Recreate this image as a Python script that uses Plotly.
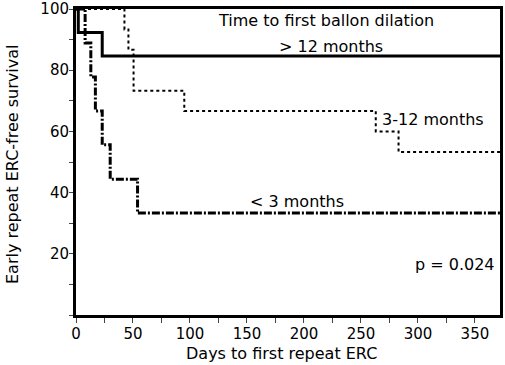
import plotly.graph_objects as go

# Kaplan-Meier step data (days, % survival)
gt12_days = [0, 2, 23, 374]
gt12_surv = [100, 92.3, 84.6, 84.6]

m3_12_days = [0, 42.5, 46, 50.5, 95, 263, 283, 374]
m3_12_surv = [100, 93.3, 86.7, 73.3, 66.7, 60.0, 53.3, 53.3]

lt3_days = [0, 8, 13, 17, 23, 30, 54, 374]
lt3_surv = [100, 88.9, 77.8, 66.7, 55.6, 44.4, 33.3, 33.3]

x_ticks = [0, 50, 100, 150, 200, 250, 300, 350]
y_ticks = [20, 40, 60, 80, 100]

FONT = "DejaVu Sans"

fig = go.Figure()
fig.add_trace(go.Scatter(x=gt12_days, y=gt12_surv, mode="lines", line_shape="hv",
                         line=dict(color="black", width=3), showlegend=False))
fig.add_trace(go.Scatter(x=m3_12_days, y=m3_12_surv, mode="lines", line_shape="hv",
                         line=dict(color="black", width=2, dash="dot"), showlegend=False))
fig.add_trace(go.Scatter(x=lt3_days, y=lt3_surv, mode="lines", line_shape="hv",
                         line=dict(color="black", width=3, dash="8px,2px,2px,2px"), showlegend=False))

annots = [
    ("Time to first ballon dilation", 219.7, 96.1, "center"),
    ("> 12 months", 223.8, 87.6, "center"),
    ("3-12 months", 313, 63.8, "center"),
    ("< 3 months", 194, 37.1, "center"),
    ("p = 0.024", 369.5, 16.6, "right"),
]
for t, x, y, xa in annots:
    fig.add_annotation(text=t, x=x, y=y, xref="x", yref="y", showarrow=False, xanchor=xa,
                       font=dict(family=FONT, size=16, color="black"))

# axis titles
fig.add_annotation(text="Days to first repeat ERC", xref="paper", yref="paper",
                   x=(281.5 - 76) / 424, y=-(353 - 315) / 306, showarrow=False,
                   xanchor="center", yanchor="middle",
                   font=dict(family=FONT, size=16, color="black"))
fig.add_annotation(text="Early repeat ERC-free survival", xref="paper", yref="paper",
                   x=-(76 - 12) / 424, y=(315 - 165) / 306, showarrow=False, textangle=-90,
                   xanchor="center", yanchor="middle",
                   font=dict(family=FONT, size=16, color="black"))

fig.update_layout(
    width=505, height=365,
    margin=dict(l=76, r=5, t=9, b=50, autoexpand=False),
    paper_bgcolor="white", plot_bgcolor="white",
    font=dict(family=FONT, size=15, color="black"),
)
fig.update_xaxes(range=[0, 372], tickvals=x_ticks, ticks="outside", ticklen=5, tickwidth=1,
                 minor=dict(dtick=25, ticks="outside", ticklen=5, tickwidth=1),
                 showline=True, linewidth=3, linecolor="black", mirror=True,
                 showgrid=False, zeroline=False, automargin=False, ticklabelstandoff=-2,
                 ticklabeloverflow="allow")
fig.update_yaxes(range=[0, 100], tickvals=y_ticks, ticks="outside", ticklen=4, tickwidth=1,
                 minor=dict(dtick=10, ticks="outside", ticklen=4, tickwidth=1),
                 showline=True, linewidth=3, linecolor="black", mirror=True,
                 showgrid=False, zeroline=False, automargin=False, ticklabelstandoff=-3,
                 ticklabeloverflow="allow")

fig.write_html("out.html", config={"displayModeBar": False},
               post_script="document.body.style.margin='0';")
